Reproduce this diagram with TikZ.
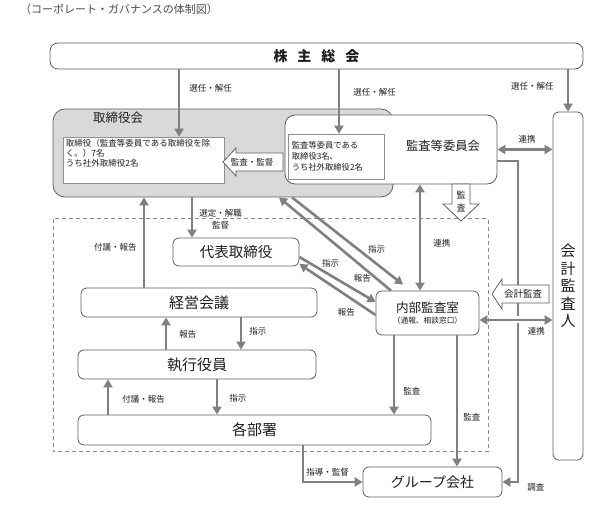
\documentclass[tikz,border=0pt]{standalone}
\usepackage{fontspec}
\setmainfont{Noto Sans CJK JP}
\usetikzlibrary{arrows.meta,positioning}
\definecolor{boxgray}{HTML}{5F5F5F}
\definecolor{linegray}{HTML}{808080}
\definecolor{boardgray}{HTML}{D9D9D9}
\definecolor{dashgray}{HTML}{8C8C8C}
\definecolor{txt}{HTML}{1E1E1E}
\newcommand{\sizept}[1]{\fontsize{#1}{#1}\selectfont}
\tikzset{
    unit/.style={
    rectangle,rounded corners=6pt,draw=boxgray,fill=white,line width=0.8pt,inner sep=0pt,text=txt
    },
    board/.style={
    rectangle,rounded corners=12pt,draw=boxgray,fill=boardgray,line width=0.8pt,inner sep=0pt
    },
    memo/.style={
    rectangle,draw=boxgray!70,fill=white,line width=0.6pt,inner sep=0pt
    },
    lbl/.style={
    font=\fontsize{8.5}{10}\selectfont,inner sep=0pt,text=txt
    },
    flow/.style={
    draw=linegray,line width=2.6pt,-{Triangle[length=8pt,width=9pt]}
    },
    mutual/.style={
    draw=linegray,line width=2.6pt,{Triangle[length=8pt,width=9pt]}-{Triangle[length=8pt,width=9pt]}
    },
    hollow/.style={
    draw=boxgray,fill=white,line width=0.8pt,line join=miter
    },
}

\begin{document}
\begin{tikzpicture}[x=1pt,y=-1pt]
   \useasboundingbox (0,0) rectangle (598,513);
   \node[anchor=west,inner sep=0pt,font=\sizept{11},text=txt!80] (title) at (20,9) {（コーポレート・ガバナンスの体制図）};

   % executive area
   \draw[dashgray,line width=1pt,dash pattern=on 4pt off 3pt] (53,219) rectangle (488,452);

   % board and audit committee
   \node[board,minimum width=340,minimum height=88] (torikai) at (223,153) {};
   \node[lbl,font=\sizept{12.5}] (torikaititle) at (118,118) {取締役会};
   \node[memo,minimum width=161,minimum height=46] (torinai) at (143.5,160) {};
   \node[lbl,anchor=north west,align=left] (torinaitext) at ([xshift=3pt,yshift=-2pt]torinai.north west)
      {取締役（監査等委員である取締役を除\\く。）7名\\うち社外取締役2名};
   \node[unit,rounded corners=10pt,minimum width=212,minimum height=69] (kansaiinkai) at (391,149.5) {};
   \node[lbl,font=\sizept{12.3}] (kansaititle) at (443,146) {監査等委員会};
   \node[memo,minimum width=96,minimum height=45] (kansainai) at (336,156.5) {};
   \node[lbl,anchor=west,align=left,font=\fontsize{8.3}{11}\selectfont] (kansaitext) at ([xshift=4pt]kansainai.west)
      {監査等委員である\\取締役3名、\\うち社外取締役2名};

   % other bodies
   \node[unit,rounded corners=8pt,minimum width=533,minimum height=26,font=\bfseries\sizept{14}] (soukai) at (316.5,56) {株\hspace{10pt}主\hspace{10pt}総\hspace{10pt}会};
   \node[unit,minimum width=30,minimum height=348,align=center,font=\fontsize{15}{17.5}\selectfont] (kaikei) at (568,286) {会\\計\\監\\査\\人};
   \node[unit,minimum width=126,minimum height=28,font=\sizept{14.5}] (daihyo) at (236,252) {代表取締役};
   \node[unit,minimum width=236,minimum height=29,font=\sizept{15}] (keiei) at (199,302.5) {経営会議};
   \node[unit,minimum width=238,minimum height=29,font=\sizept{15}] (shikko) at (197,364.5) {執行役員};
   \node[unit,minimum width=353,minimum height=30,font=\sizept{15}] (kakubu) at (254.5,430) {各部署};
   \node[unit,minimum width=139,minimum height=30,font=\sizept{14}] (group) at (432.5,482) {グループ会社};
   \node[unit,minimum width=103,minimum height=44,align=center,font=\fontsize{12.6}{11}\selectfont] (naibu) at (427.5,313)
      {内部監査室\\{\sizept{7.7}（通報、相談窓口）}};
   \coordinate (chosa) at (518,300);

   % connectors
   \draw[flow] ([xshift=-137.5pt]soukai.south) -- ([xshift=35.5pt]torinai.north)
      node[lbl,pos=0.28,anchor=west,xshift=9pt] {選任・解任};
   \draw[flow] ([xshift=22.5pt]soukai.south) -- ([xshift=3pt]kansainai.north)
      node[lbl,pos=0.35,anchor=west,xshift=13pt] {選任・解任};
   \draw[flow] ([xshift=251.5pt]soukai.south) -- (kaikei.north)
      node[lbl,pos=0.4,anchor=east,xshift=-13pt] {選任・解任};
   \draw[mutual] (kansaiinkai.east) -- (kansaiinkai.east -| kaikei.west)
      node[lbl,pos=0.54,anchor=south,yshift=5pt] {連携};
   \draw[flow] ([xshift=-31pt]torikai.south) -- ([xshift=-44pt]daihyo.north)
      node[lbl,pos=0.54,anchor=west,xshift=6pt,align=center,font=\fontsize{8.5}{12}\selectfont] {選定・解職\\監督};
   \draw[flow] ([xshift=-55pt]keiei.north) -- ([xshift=-79pt]torikai.south)
      node[lbl,pos=0.45,anchor=east,xshift=-6pt] {付議・報告};
   \draw[flow] ([xshift=-31pt]shikko.north) -- ([xshift=-33pt]keiei.south)
      node[lbl,pos=0.48,anchor=west,xshift=12pt] {報告};
   \draw[flow] ([xshift=42pt]keiei.south) -- ([xshift=44pt]shikko.north)
      node[lbl,pos=0.42,anchor=west,xshift=7pt] {指示};
   \draw[flow] ([xshift=-146.5pt]kakubu.north) -- ([xshift=-89pt]shikko.south)
      node[lbl,pos=0.44,anchor=west,xshift=13pt] {付議・報告};
   \draw[flow] ([xshift=20pt]shikko.south) -- ([xshift=-37.5pt]kakubu.north)
      node[lbl,pos=0.53,anchor=west,xshift=11pt] {指示};
   \draw[flow] ([xshift=48.5pt]kakubu.south) |- (group.west)
      node[lbl,pos=0.5,anchor=south west,xshift=2pt,yshift=5pt] {指導・監督};
   \draw[mutual] ([xshift=-7.5pt]naibu.north) -- ([xshift=29pt]kansaiinkai.south)
      node[lbl,pos=0.45,anchor=west,xshift=12pt] {連携};
   \draw[flow] ([xshift=-33.5pt]naibu.south) -- ([xshift=139.5pt]kakubu.north)
      node[lbl,pos=0.71,anchor=west,xshift=8pt] {監査};
   \draw[flow] ([xshift=29.5pt]naibu.south) -- ([xshift=24.5pt]group.north)
      node[lbl,pos=0.62,anchor=west,xshift=5pt] {監査};
   \draw[flow] ([yshift=-11.5pt]kansaiinkai.east) -| (chosa) |- (group.east)
      node[lbl,pos=0.5,anchor=west,xshift=8pt,yshift=-5pt] {調査};
   \draw[mutual,preaction={draw=white,line width=7pt,-,shorten <=20pt,shorten >=20pt}]
      ([yshift=-7pt]naibu.east) -- ([yshift=-34pt]kaikei.west)
      node[lbl,pos=0.78,anchor=north,yshift=-6pt] {連携};
   \draw[flow] ([xshift=69pt]torikai.south) -- ([xshift=-24.5pt,yshift=6pt]naibu.north)
      node[lbl,pos=0.6,xshift=18pt] {指示};
   \draw[flow] ([xshift=-36.5pt]naibu.north) -- ([xshift=56pt]torikai.south)
      node[lbl,pos=0.13,xshift=-14pt] {報告};
   \draw[flow] ([yshift=-5pt]daihyo.east) -- ([yshift=11pt]naibu.west)
      node[lbl,pos=0.41,yshift=12pt] {指示};
   \draw[flow] ([yshift=-2pt]naibu.west) -- ([yshift=-12pt]daihyo.east)
      node[lbl,pos=0.383,yshift=-17pt] {報告};

   % block arrows
   \draw[hollow] (283,153) -- (236,153) -- (236,148) -- (223,162) -- (236,176) -- (236,171) -- (283,171) -- cycle;
   \node[lbl] (kantoku) at (252,162) {監査・監督};
   \draw[hollow] (452,184) -- (452,204) -- (443,204) -- (461,221) -- (479,204) -- (470,204) -- (470,184) -- cycle;
   \node[lbl,align=center,font=\fontsize{9}{13}\selectfont] (kansadown) at (461,201.5) {監\\査};
   \draw[hollow] (549,285) -- (502,285) -- (502,279) -- (492,294) -- (502,309) -- (502,303) -- (549,303) -- cycle;
   \node[lbl,font=\sizept{9.5}] (kaikeikansa) at (523,294) {会計監査};
\end{tikzpicture}
\end{document}
